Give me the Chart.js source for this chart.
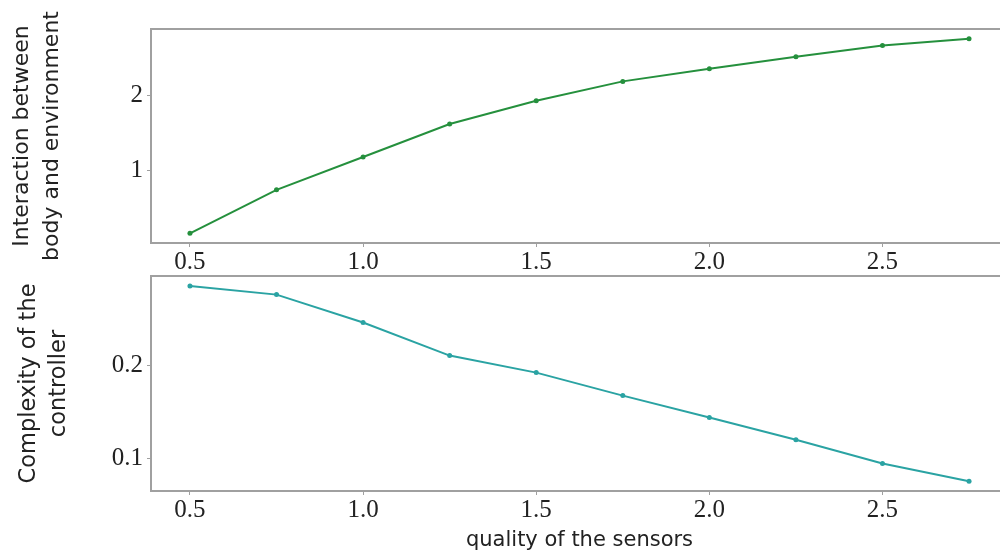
<!DOCTYPE html>
<html>
<head>
<meta charset="utf-8">
<script src="https://cdn.jsdelivr.net/npm/chart.js@4.4.0/dist/chart.umd.min.js"></script>
<style>
  html, body { margin: 0; padding: 0; background: #fff; overflow: hidden; }
  body { width: 1000px; height: 553px; position: relative; }
  .panel { position: absolute; left: 0; width: 1012px; }
  #top-panel { top: 0; height: 275px; }
  #bottom-panel { top: 245px; height: 308px; }
</style>
</head>
<body>
<div class="panel" id="top-panel"><canvas id="top-chart"></canvas></div>
<div class="panel" id="bottom-panel"><canvas id="bottom-chart"></canvas></div>
<script>
// センサー品質 (x)
const sensorQuality = [0.5, 0.75, 1.0, 1.25, 1.5, 1.75, 2.0, 2.25, 2.5, 2.75];
// 上段: 身体と環境の相互作用
const interactionValues = [0.16, 0.74, 1.18, 1.62, 1.93, 2.19, 2.36, 2.52, 2.67, 2.76];
// 下段: コントローラの複雑さ
const complexityValues = [0.2857, 0.2765, 0.2465, 0.2110, 0.1927, 0.1680, 0.1445, 0.1205, 0.0950, 0.0760];

const xTicks = [0.5, 1.0, 1.5, 2.0, 2.5];
const topYTicks = [1, 2];
const bottomYTicks = [0.1, 0.2];

const topLabel = ['Interaction between', 'body and environment'];
const bottomLabel = ['Complexity of the', 'controller'];
const xLabel = 'quality of the sensors';

const spineColor = '#a0a0a0';
const tickFont = { family: 'Liberation Serif', size: 25 };
const xLabelFont = { family: 'DejaVu Sans', size: 21 };

// 枠線を描くプラグイン
const frame = {
    id: 'frame',
    afterDraw(chart) {
        const a = chart.chartArea;
        const ctx = chart.ctx;
        ctx.save();
        ctx.strokeStyle = spineColor;
        ctx.lineWidth = 2;
        ctx.strokeRect(a.left, a.top, a.right - a.left, a.bottom - a.top);
        ctx.restore();
    }
};

function makeChart(id, values, color, yTicks, yRange, yLabel, labelSize, labelPad, padTop, xHeight, showXTitle, yDigits) {
    const ctx = document.getElementById(id).getContext('2d');
    return new Chart(ctx, {
        type: 'line',
        data: {
            datasets: [{
                data: sensorQuality.map((x, i) => ({ x: x, y: values[i] })),
                borderColor: color,
                backgroundColor: color,
                borderWidth: 2,
                pointRadius: 2.5,
                pointBorderWidth: 0,
                tension: 0
            }]
        },
        plugins: [frame],
        options: {
            responsive: true,
            maintainAspectRatio: false,
            animation: false,
            layout: { padding: { top: padTop, left: 0, right: 0, bottom: 0 } },
            plugins: { legend: { display: false }, tooltip: { enabled: false } },
            scales: {
                x: {
                    type: 'linear',
                    min: 0.3875,
                    max: 2.8625,
                    afterBuildTicks: s => { s.ticks = xTicks.map(v => ({ value: v })); },
                    afterFit: s => { s.height = xHeight; },
                    border: { display: false },
                    grid: { drawOnChartArea: false, tickLength: 4, color: spineColor, tickColor: spineColor },
                    ticks: {
                        color: '#222',
                        font: tickFont,
                        padding: 0,
                        maxRotation: 0,
                        callback: v => v.toFixed(1)
                    },
                    title: {
                        display: showXTitle,
                        text: xLabel,
                        color: '#222',
                        font: xLabelFont,
                        padding: { top: 0, bottom: 0 }
                    }
                },
                y: {
                    min: yRange[0],
                    max: yRange[1],
                    afterBuildTicks: s => { s.ticks = yTicks.map(v => ({ value: v })); },
                    afterFit: s => { s.width = 151; },
                    border: { display: false },
                    grid: { drawOnChartArea: false, tickLength: 4, color: spineColor, tickColor: spineColor },
                    ticks: {
                        color: '#222',
                        font: tickFont,
                        padding: 4,
                        callback: v => v.toFixed(yDigits)
                    },
                    title: {
                        display: true,
                        text: yLabel,
                        color: '#222',
                        font: { family: 'DejaVu Sans', size: labelSize, lineHeight: 30 / labelSize },
                        padding: { top: labelPad, bottom: 0 }
                    }
                }
            }
        }
    });
}

makeChart('top-chart', interactionValues, '#25903d', topYTicks, [0.03, 2.89], topLabel, 22, 7, 29, 32, false, 0);
makeChart('bottom-chart', complexityValues, '#2aa3a3', bottomYTicks, [0.0655, 0.2965], bottomLabel, 22.5, 14, 31, 62, true, 1);
</script>
</body>
</html>
